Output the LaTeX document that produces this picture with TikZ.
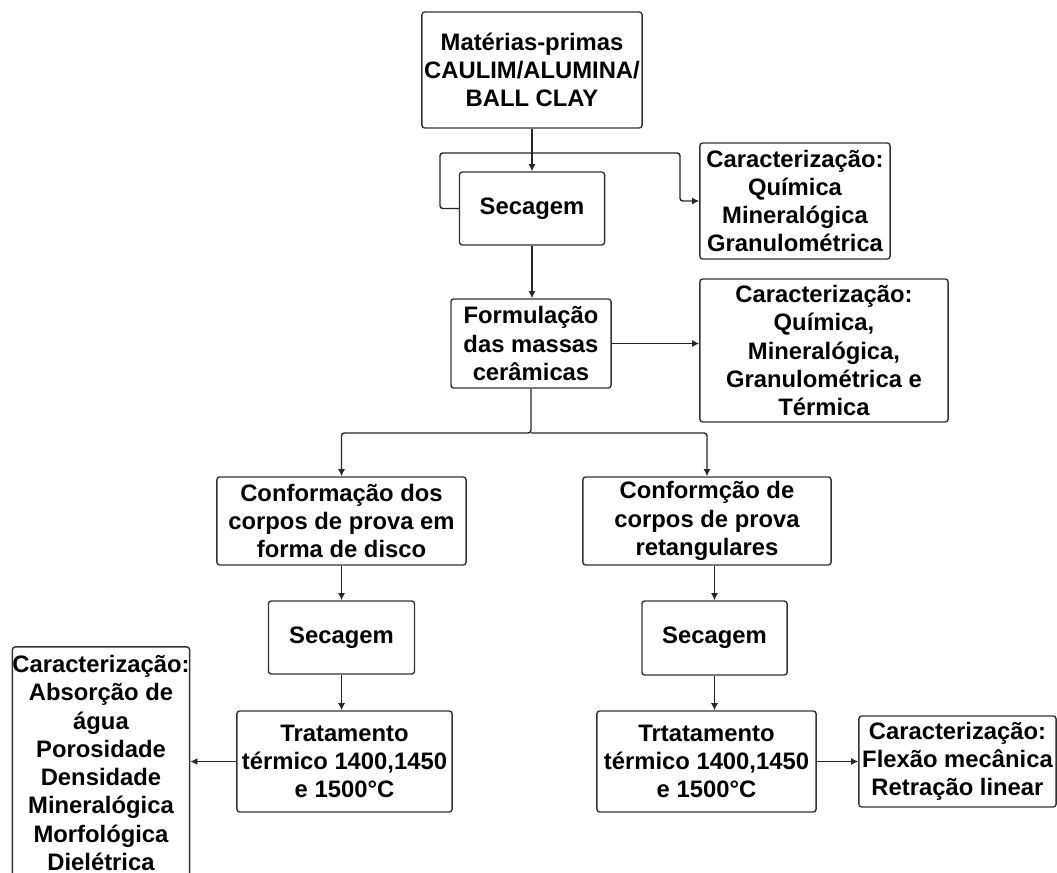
\documentclass[tikz,border=0pt]{standalone}
\usepackage{fontspec}
\setmainfont{Liberation Sans}
\usetikzlibrary{arrows.meta}

\begin{document}
\begin{tikzpicture}[x=0.01cm, y=-0.01cm,
    flowbox/.style={draw=black!80, line width=0.4pt, rounded corners=0.8pt, align=center, inner sep=0pt,
        font=\fontsize{6.77}{8.05}\selectfont\bfseries},
    link/.style={draw=black!85, line width=0.4pt, rounded corners=0.8pt, -{Latex[length=2pt, width=2pt]}}]
    \useasboundingbox (0,0) rectangle (1057,873);
    % boxes
    \node[flowbox, minimum width=2.20cm, minimum height=1.16cm] (raw) at (532,70){Matérias-primas\\CAULIM/ALUMINA/\\BALL CLAY};
    \node[flowbox, minimum width=1.45cm, minimum height=0.73cm] (dry) at (532,208.5){Secagem};
    \node[flowbox, minimum width=1.90cm, minimum height=1.16cm] (charA) at (795,201){Caracterização:\\Química\\Mineralógica\\Granulométrica};
    \node[flowbox, minimum width=1.60cm, minimum height=0.89cm] (mix) at (531,343.5){Formulação\\das massas\\cerâmicas};
    \node[flowbox, minimum width=2.48cm, minimum height=1.43cm] (charB) at (824,350.5){Caracterização:\\Química,\\Mineralógica,\\Granulométrica e\\Térmica};
    \node[flowbox, minimum width=2.49cm, minimum height=0.88cm] (shapeL) at (341.5,521){Conformação dos\\corpos de prova em\\forma de disco};
    \node[flowbox, minimum width=2.48cm, minimum height=0.88cm] (shapeR) at (707,521){Conformção de\\corpos de prova\\retangulares};
    \node[flowbox, minimum width=1.46cm, minimum height=0.73cm] (dryL) at (341.5,637.5){Secagem};
    \node[flowbox, minimum width=1.45cm, minimum height=0.74cm] (dryR) at (714.5,638){Secagem};
    \node[flowbox, minimum width=2.15cm, minimum height=1.01cm] (fireL) at (344.5,761.5){Tratamento\\térmico 1400,1450\\e 1500°C};
    \node[flowbox, minimum width=2.19cm, minimum height=1.01cm] (fireR) at (706.5,761.5){Trtatamento\\térmico 1400,1450\\e 1500°C};
    \node[flowbox, minimum width=1.76cm, minimum height=2.32cm] (charL) at (101,763){Caracterização:\\Absorção de\\água\\Porosidade\\Densidade\\Mineralógica\\Morfológica\\Dielétrica};
    \node[flowbox, minimum width=1.97cm, minimum height=0.91cm] (charR) at (957.5,761.5){Caracterização:\\Flexão mecânica\\Retração linear};

    % arrows
    \coordinate (loopL) at (440,153);
    \coordinate (loopR) at (680,153);
    \coordinate (split) at (531,433);
    \draw[link] (raw.south) -- (dry.north);
    \draw[link] (dry.west) -| (loopL) -- (loopR) |- (charA.west);
    \draw[link] (dry.south) -- (dry.south |- mix.north);
    \draw[link] (mix.east) -- (charB.west |- mix.east);
    \draw[link] (mix.south) -- (split) -| (shapeL.north);
    \draw[link] (split) -| (shapeR.north);
    \draw[link] (shapeL.south) -- (dryL.north);
    \draw[link] (dryR.north |- shapeR.south) -- (dryR.north);
    \draw[link] (dryL.south) -- (dryL.south |- fireL.north);
    \draw[link] (dryR.south) -- (dryR.south |- fireR.north);
    \draw[link] (fireL.west) -- (charL.east |- fireL.west);
    \draw[link] (fireR.east) -- (charR.west);
\end{tikzpicture}
\end{document}
